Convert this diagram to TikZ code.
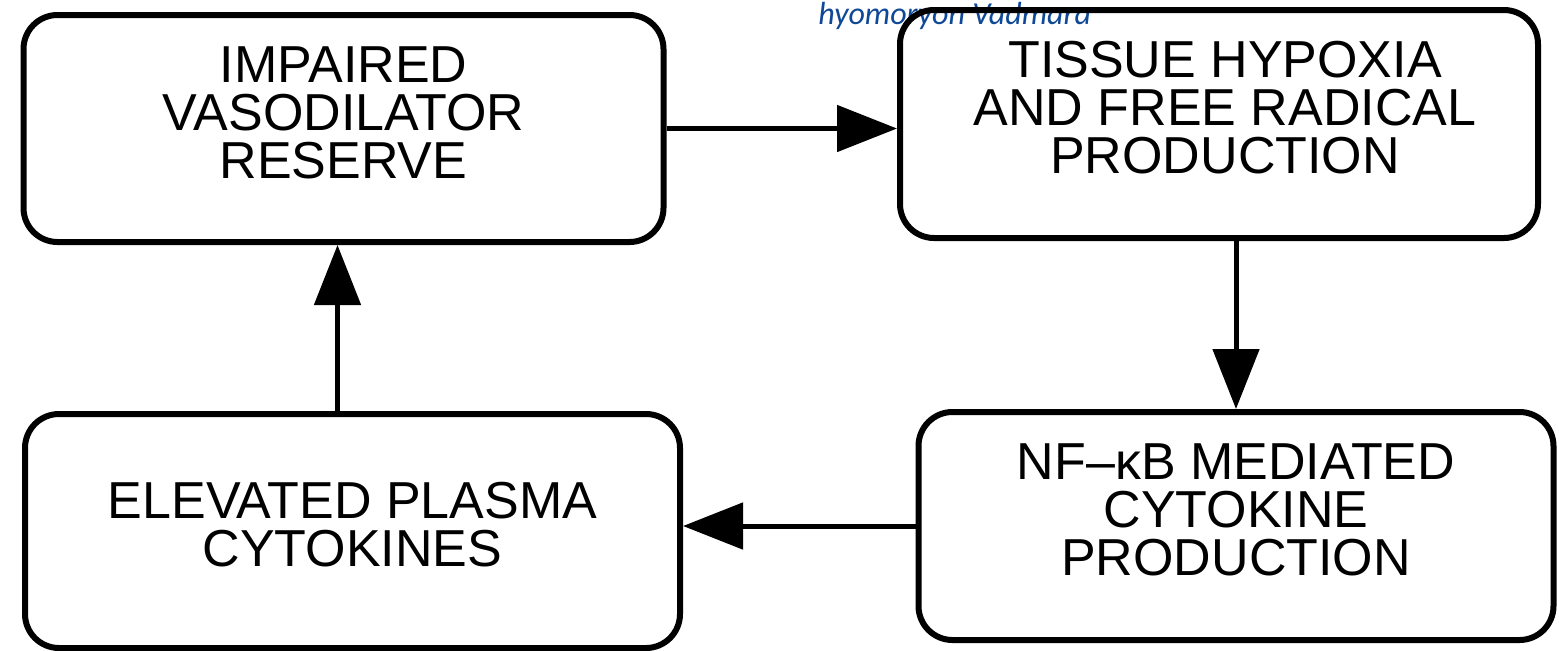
\documentclass[tikz,border=0pt]{standalone}
\usepackage{fontspec}
\setmainfont{Liberation Sans}
\newfontfamily\notefont{Carlito}
\usetikzlibrary{arrows.meta,calc}
\tikzset{
  cyclebox/.style={draw=black, line width=3pt, rounded corners=17pt,
    rectangle, inner sep=0pt},
  boxtext/.style={align=center, inner sep=0pt,
    font=\fontsize{26}{24}\selectfont},
  flow/.style={line width=2.5pt,
    -{Triangle[length=30pt,width=23pt]}},
}
\begin{document}
\begin{tikzpicture}[x=0.5pt,y=-0.5pt]
  \useasboundingbox (0,0) rectangle (1559,650);
  \clip (0,0) rectangle (1559,650);
  \fill[white] (0,0) rectangle (1559,650);

  % handwritten-style note along the top edge
  \node[anchor=base west, inner sep=0pt, text={rgb,255:red,14;green,72;blue,150},
    font=\notefont\itshape\fontsize{16}{20}\selectfont] (note) at (818,24)
    {hyomoryon Vadmara};

  % the four stages of the cycle
  \node[cyclebox, minimum width=320pt, minimum height=113.5pt] (b1) at (343.5,128.5) {};
  \node[cyclebox, minimum width=319pt, minimum height=114pt] (b2) at (1219,124) {};
  \node[cyclebox, minimum width=317.5pt, minimum height=114pt] (b3) at (1236,526) {};
  \node[cyclebox, minimum width=327.5pt, minimum height=117pt] (b4) at (352.5,531) {};

  \node[boxtext] (t1) at ([yshift=8pt]b1.center) {IMPAIRED\\VASODILATOR\\RESERVE};
  \node[boxtext] (t2) at ([yshift=8pt,xshift=3pt]b2.center) {TISSUE HYPOXIA\\AND FREE RADICAL\\PRODUCTION};
  \node[boxtext] (t3) at ([yshift=8pt]b3.center) {NF–κB MEDIATED\\CYTOKINE\\PRODUCTION};
  \node[boxtext] (t4) at ([yshift=3pt]b4.center) {ELEVATED PLASMA\\CYTOKINES};

  % connectors closing the loop
  \draw[flow] (b1.east) -- (b1.east -| b2.west);
  \draw[flow] (b3.north |- b2.south) -- (b3.north);
  \draw[flow] (b3.west) -- (b3.west -| b4.east);
  \draw[flow] ([xshift=-7.5pt]b4.north) -- ([xshift=-7.5pt]b4.north |- b1.south);
\end{tikzpicture}
\end{document}
